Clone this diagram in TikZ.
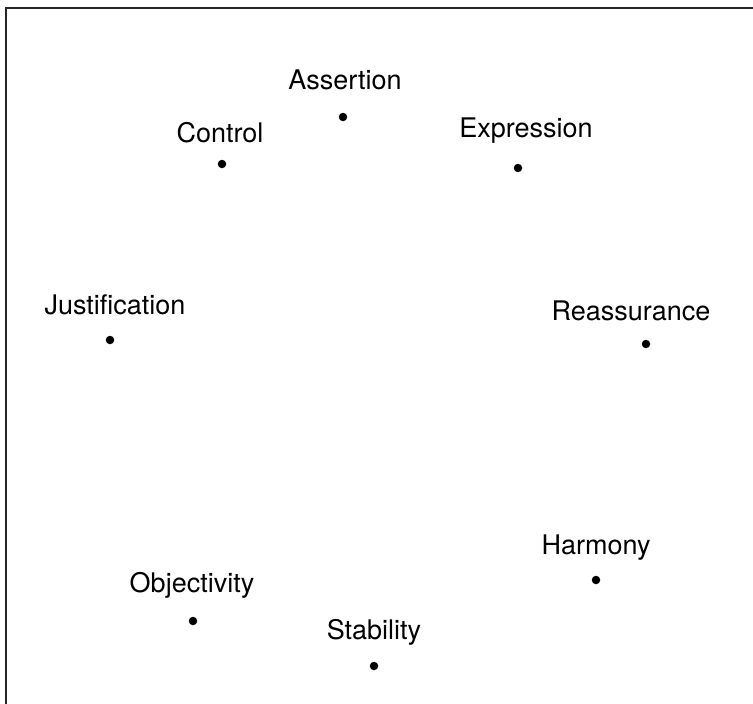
\documentclass[tikz,border=0pt]{standalone}
\usepackage{fontspec}
\setmainfont{TeX Gyre Heros}
\usepackage{tikz}

\begin{document}
\begin{tikzpicture}[x=1pt,y=-1pt,
  pt/.style={circle,fill=black,inner sep=0pt,minimum size=8.5pt},
  lbl/.style={inner sep=0pt,font=\fontsize{27}{32}\selectfont}]
\useasboundingbox (0,0) rectangle (753,704);

% Frame (left and top edges only)
\draw[line width=1.6pt,black!85] (6,704) -- (6,8) -- (753,8);

% Points
\node[pt] (assertion) at (343,117) {};
\node[pt] (control) at (222,164) {};
\node[pt] (expression) at (518,168) {};
\node[pt] (justification) at (110,340) {};
\node[pt] (reassurance) at (646,344) {};
\node[pt] (harmony) at (596,580) {};
\node[pt] (objectivity) at (193,621) {};
\node[pt] (stability) at (374,666) {};

% Labels
\node[lbl] (assertionL) at (345,80) {Assertion};
\node[lbl] (controlL) at (220,133) {Control};
\node[lbl] (expressionL) at (526,131) {Expression};
\node[lbl] (justificationL) at (115,305) {Justification};
\node[lbl] (reassuranceL) at (631,311) {Reassurance};
\node[lbl] (harmonyL) at (596,548) {Harmony};
\node[lbl] (objectivityL) at (192,585) {Objectivity};
\node[lbl] (stabilityL) at (374,632) {Stability};

\end{tikzpicture}
\end{document}
